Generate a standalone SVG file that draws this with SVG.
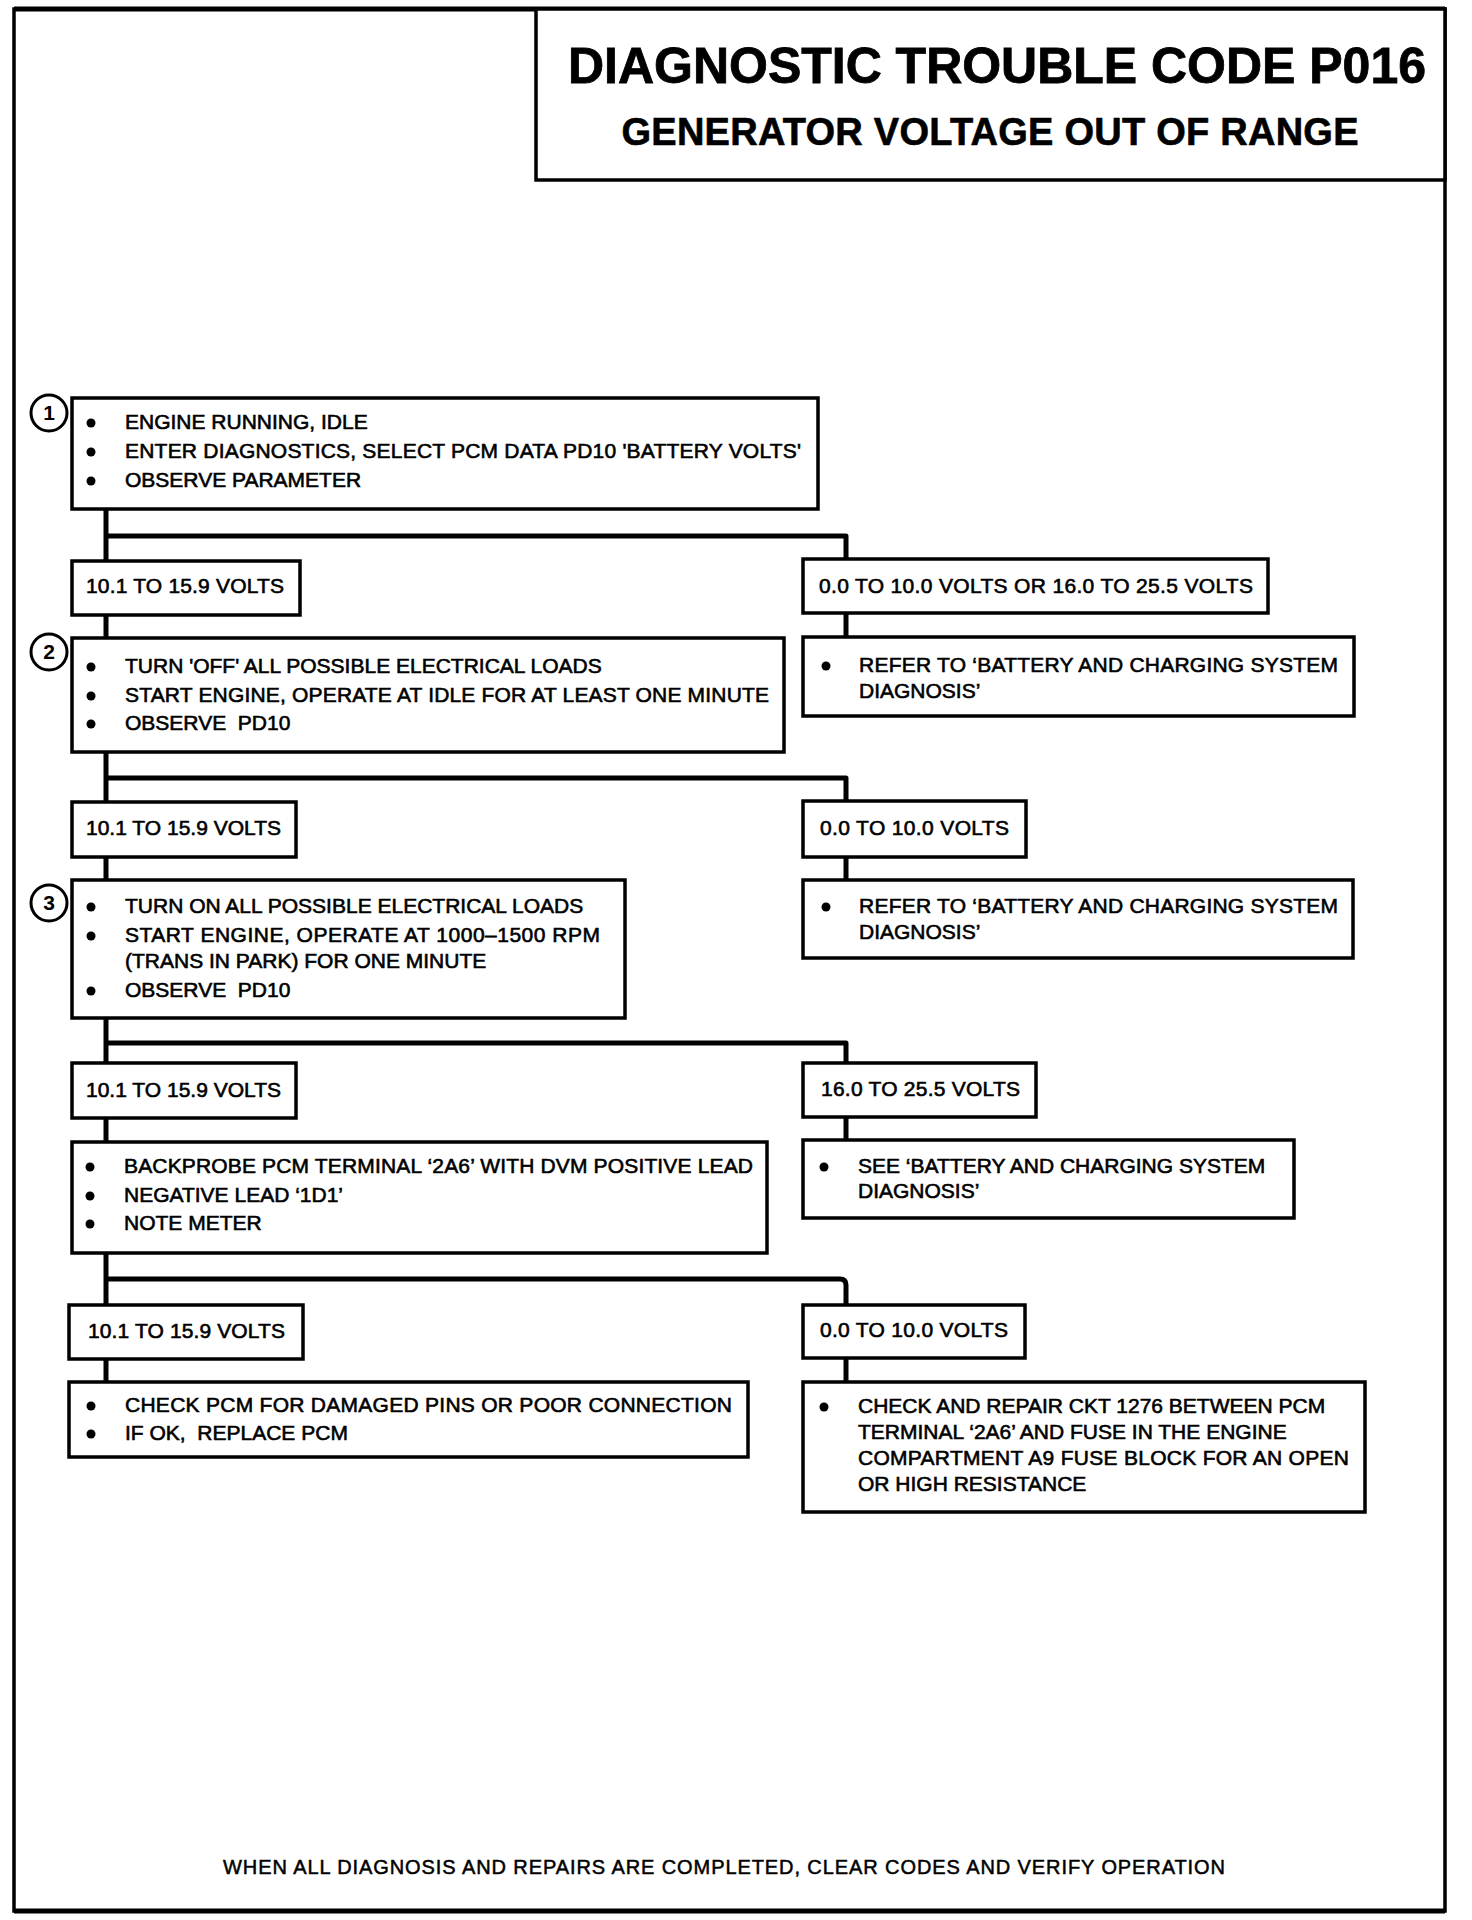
<svg xmlns="http://www.w3.org/2000/svg" width="1472" height="1920" viewBox="0 0 1472 1920" xml:space="preserve">
<style>
  text { font-family: "Liberation Sans", Arial, sans-serif; fill: #000; white-space: pre; }
  .t { font-size: 21px; stroke: #000; stroke-width: 0.6; }
  .title { font-size: 50px; font-weight: bold; stroke: #000; stroke-width: 0.8; }
  .sub { font-size: 38px; font-weight: bold; stroke: #000; stroke-width: 0.6; }
  .num { font-size: 21px; font-weight: bold; text-anchor: middle; }
  .foot { font-size: 20px; stroke: #000; stroke-width: 0.5; }
  .box { fill: #fff; stroke: #000; stroke-width: 3.5; }
  .frame { fill: none; stroke: #000; stroke-width: 3.5; }
  .circ { fill: #fff; stroke: #000; stroke-width: 3; }
  .con { fill: none; stroke: #000; stroke-width: 5; stroke-linejoin: round; }
  .dot { fill: #000; }
</style>
<rect x="0" y="0" width="1472" height="1920" fill="#fff"/>
<rect class="frame" x="14" y="9" width="1431" height="1902"/>
<line x1="14" y1="9" x2="1445" y2="9" stroke="#000" stroke-width="5"/>
<line x1="14" y1="1911" x2="1445" y2="1911" stroke="#000" stroke-width="5"/>

<g id="title">
  <rect class="box" x="536" y="9" width="909" height="171"/>
  <text class="title" x="997" y="83" text-anchor="middle" textLength="858">DIAGNOSTIC TROUBLE CODE P016</text>
  <text class="sub" x="990" y="145" text-anchor="middle" textLength="737">GENERATOR VOLTAGE OUT OF RANGE</text>
</g>

<g id="connectors">
  <path class="con" d="M106,509 V561"/>
  <path class="con" d="M106,536 H846 V559"/>
  <path class="con" d="M106,615 V638"/>
  <path class="con" d="M846,613 V637"/>
  <path class="con" d="M106,752 V802"/>
  <path class="con" d="M106,778 H846 V801"/>
  <path class="con" d="M106,857 V880"/>
  <path class="con" d="M846,857 V880"/>
  <path class="con" d="M106,1018 V1063"/>
  <path class="con" d="M106,1043 H846 V1063"/>
  <path class="con" d="M106,1118 V1142"/>
  <path class="con" d="M846,1117 V1140"/>
  <path class="con" d="M106,1253 V1305"/>
  <path class="con" d="M106,1279 H840 Q846,1279 846,1285 V1305"/>
  <path class="con" d="M106,1359 V1382"/>
  <path class="con" d="M846,1358 V1382"/>
</g>

<g id="step1">
  <circle class="circ" cx="49" cy="413" r="18"/>
  <text class="num" x="49" y="420">1</text>
  <rect class="box" x="72" y="398" width="746" height="111"/>
  <circle class="dot" cx="91" cy="423" r="4.5"/>
  <circle class="dot" cx="91" cy="452" r="4.5"/>
  <circle class="dot" cx="91" cy="481" r="4.5"/>
  <text class="t" x="125" y="429">ENGINE RUNNING, IDLE</text>
  <text class="t" x="125" y="458" textLength="676">ENTER DIAGNOSTICS, SELECT PCM DATA PD10 'BATTERY VOLTS'</text>
  <text class="t" x="125" y="487">OBSERVE PARAMETER</text>
</g>

<g id="l1">
  <rect class="box" x="72" y="561" width="228" height="54"/>
  <text class="t" x="86" y="593" textLength="198">10.1 TO 15.9 VOLTS</text>
</g>

<g id="r1">
  <rect class="box" x="803" y="559" width="465" height="54"/>
  <text class="t" x="819" y="593" textLength="434">0.0 TO 10.0 VOLTS OR 16.0 TO 25.5 VOLTS</text>
</g>

<g id="step2">
  <circle class="circ" cx="49" cy="652" r="18"/>
  <text class="num" x="49" y="659">2</text>
  <rect class="box" x="72" y="638" width="712" height="114"/>
  <circle class="dot" cx="91" cy="667" r="4.5"/>
  <circle class="dot" cx="91" cy="696" r="4.5"/>
  <circle class="dot" cx="91" cy="724" r="4.5"/>
  <text class="t" x="125" y="673">TURN 'OFF' ALL POSSIBLE ELECTRICAL LOADS</text>
  <text class="t" x="125" y="702" textLength="644">START ENGINE, OPERATE AT IDLE FOR AT LEAST ONE MINUTE</text>
  <text class="t" x="125" y="730">OBSERVE  PD10</text>
</g>

<g id="rb1">
  <rect class="box" x="803" y="637" width="551" height="79"/>
  <circle class="dot" cx="826" cy="666" r="4.5"/>
  <text class="t" x="859" y="672" textLength="479">REFER TO ‘BATTERY AND CHARGING SYSTEM</text>
  <text class="t" x="859" y="698">DIAGNOSIS’</text>
</g>

<g id="l2">
  <rect class="box" x="72" y="802" width="224" height="55"/>
  <text class="t" x="86" y="835" textLength="195">10.1 TO 15.9 VOLTS</text>
</g>

<g id="r2">
  <rect class="box" x="803" y="801" width="223" height="56"/>
  <text class="t" x="820" y="835" textLength="189">0.0 TO 10.0 VOLTS</text>
</g>

<g id="step3">
  <circle class="circ" cx="49" cy="903" r="18"/>
  <text class="num" x="49" y="910">3</text>
  <rect class="box" x="72" y="880" width="553" height="138"/>
  <circle class="dot" cx="91" cy="907" r="4.5"/>
  <circle class="dot" cx="91" cy="936" r="4.5"/>
  <circle class="dot" cx="91" cy="991" r="4.5"/>
  <text class="t" x="125" y="913">TURN ON ALL POSSIBLE ELECTRICAL LOADS</text>
  <text class="t" x="125" y="942" textLength="475">START ENGINE, OPERATE AT 1000–1500 RPM</text>
  <text class="t" x="125" y="968">(TRANS IN PARK) FOR ONE MINUTE</text>
  <text class="t" x="125" y="997">OBSERVE  PD10</text>
</g>

<g id="rb2">
  <rect class="box" x="803" y="880" width="550" height="78"/>
  <circle class="dot" cx="826" cy="907" r="4.5"/>
  <text class="t" x="859" y="913" textLength="479">REFER TO ‘BATTERY AND CHARGING SYSTEM</text>
  <text class="t" x="859" y="939">DIAGNOSIS’</text>
</g>

<g id="l3">
  <rect class="box" x="72" y="1063" width="224" height="55"/>
  <text class="t" x="86" y="1097" textLength="195">10.1 TO 15.9 VOLTS</text>
</g>

<g id="r3">
  <rect class="box" x="803" y="1063" width="233" height="54"/>
  <text class="t" x="821" y="1096" textLength="199">16.0 TO 25.5 VOLTS</text>
</g>

<g id="step4">
  <rect class="box" x="72" y="1142" width="695" height="111"/>
  <circle class="dot" cx="90" cy="1167" r="4.5"/>
  <circle class="dot" cx="90" cy="1196" r="4.5"/>
  <circle class="dot" cx="90" cy="1224" r="4.5"/>
  <text class="t" x="124" y="1173" textLength="629">BACKPROBE PCM TERMINAL ‘2A6’ WITH DVM POSITIVE LEAD</text>
  <text class="t" x="124" y="1202">NEGATIVE LEAD ‘1D1’</text>
  <text class="t" x="124" y="1230">NOTE METER</text>
</g>

<g id="rb3">
  <rect class="box" x="803" y="1140" width="491" height="78"/>
  <circle class="dot" cx="824" cy="1167" r="4.5"/>
  <text class="t" x="858" y="1173">SEE ‘BATTERY AND CHARGING SYSTEM</text>
  <text class="t" x="858" y="1198">DIAGNOSIS’</text>
</g>

<g id="l4">
  <rect class="box" x="69" y="1305" width="234" height="54"/>
  <text class="t" x="88" y="1338" textLength="197">10.1 TO 15.9 VOLTS</text>
</g>

<g id="r4">
  <rect class="box" x="803" y="1305" width="222" height="53"/>
  <text class="t" x="820" y="1337" textLength="188">0.0 TO 10.0 VOLTS</text>
</g>

<g id="step5">
  <rect class="box" x="69" y="1382" width="679" height="75"/>
  <circle class="dot" cx="91" cy="1406" r="4.5"/>
  <circle class="dot" cx="91" cy="1434" r="4.5"/>
  <text class="t" x="125" y="1412" textLength="607">CHECK PCM FOR DAMAGED PINS OR POOR CONNECTION</text>
  <text class="t" x="125" y="1440">IF OK,  REPLACE PCM</text>
</g>

<g id="rb4">
  <rect class="box" x="803" y="1382" width="562" height="130"/>
  <circle class="dot" cx="824" cy="1407" r="4.5"/>
  <text class="t" x="858" y="1413">CHECK AND REPAIR CKT 1276 BETWEEN PCM</text>
  <text class="t" x="858" y="1439">TERMINAL ‘2A6’ AND FUSE IN THE ENGINE</text>
  <text class="t" x="858" y="1465" textLength="491">COMPARTMENT A9 FUSE BLOCK FOR AN OPEN</text>
  <text class="t" x="858" y="1491">OR HIGH RESISTANCE</text>
</g>

<g id="footer">
  <text class="foot" x="724" y="1874" text-anchor="middle" textLength="1002">WHEN ALL DIAGNOSIS AND REPAIRS ARE COMPLETED, CLEAR CODES AND VERIFY OPERATION</text>
</g>
</svg>
